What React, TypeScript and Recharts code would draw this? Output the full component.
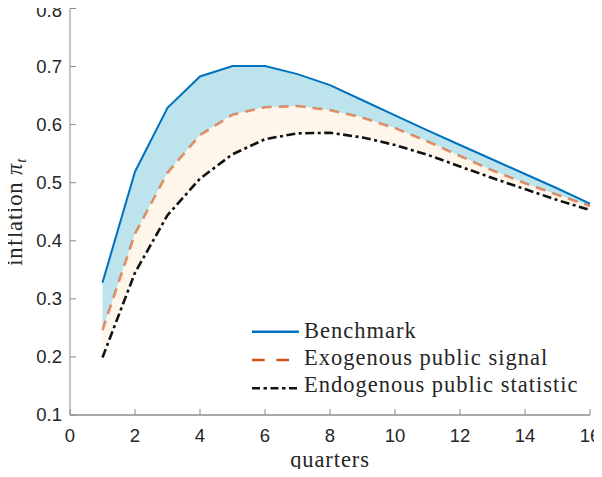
import React from 'react';
import { ComposedChart, Area, Line, XAxis, YAxis, Label } from 'recharts';

const quarters = [1, 2, 3, 4, 5, 6, 7, 8, 9, 10, 11, 12, 13, 14, 15, 16];
const benchmark = [0.328, 0.519, 0.629, 0.683, 0.701, 0.701, 0.687, 0.668, 0.642, 0.616, 0.590, 0.565, 0.540, 0.515, 0.490, 0.464];
const exogenous = [0.246, 0.412, 0.517, 0.582, 0.617, 0.630, 0.632, 0.625, 0.612, 0.594, 0.571, 0.546, 0.521, 0.499, 0.479, 0.460];
const endogenous = [0.199, 0.345, 0.444, 0.507, 0.549, 0.575, 0.585, 0.586, 0.578, 0.565, 0.548, 0.528, 0.508, 0.489, 0.470, 0.453];
const xTicks = [0, 2, 4, 6, 8, 10, 12, 14, 16];
const yTicks = [0.1, 0.2, 0.3, 0.4, 0.5, 0.6, 0.7, 0.8];
const legendLabels = ['Benchmark', 'Exogenous public signal', 'Endogenous public statistic'];

const data = quarters.map((q, i) => ({
  q,
  benchmark: benchmark[i],
  exogenous: exogenous[i],
  endogenous: endogenous[i],
  upperBand: [exogenous[i], benchmark[i]],
  lowerBand: [endogenous[i], exogenous[i]],
}));

const AXIS = '#8a8a8a';
const TICK_SIZE = 18.5;
const TICK_FONT = { fontFamily: '"Liberation Sans", Arial, sans-serif', fontSize: TICK_SIZE, fill: '#262626' };
const SERIF = '"Liberation Serif", "Times New Roman", serif';

const BLUE = '#0072BD';
const ORANGE = '#D95319';

const YTick = (props: any) => {
  const { x, y, payload } = props;
  // keep the font box of the top label inside the picture
  const yy = Math.max(y, TICK_SIZE * 0.56);
  return (
    <text
      x={x}
      y={yy}
      dy="0.35em"
      textAnchor="end"
      fontFamily={TICK_FONT.fontFamily}
      fontSize={TICK_SIZE}
      fill="#262626"
    >
      {Number(payload.value).toFixed(1)}
    </text>
  );
};

export default function App() {
  return (
    <div style={{ position: 'relative', margin: '-8px', width: 602, height: 477, overflow: 'visible' }}>
      <ComposedChart width={602} height={477} data={data} margin={{ top: 8.5, right: 12, bottom: 0, left: 0 }}>
        <XAxis
          xAxisId="b"
          dataKey="q"
          type="number"
          domain={[0, 16]}
          ticks={xTicks}
          height={62}
          tickSize={-6}
          tickMargin={20}
          axisLine={{ stroke: '#555555' }}
          tickLine={{ stroke: AXIS }}
          tick={TICK_FONT}
          interval={0}
        >
          <Label
            content={(props: any) => {
              const vb = props.viewBox;
              return (
                <text
                  x={vb.x + vb.width / 2}
                  y={467}
                  textAnchor="middle"
                  fontFamily={SERIF}
                  fontSize={22.5}
                  letterSpacing={0.9}
                  fill="#262626"
                >
                  quarters
                </text>
              );
            }}
          />
        </XAxis>
        <XAxis
          xAxisId="t"
          orientation="top"
          dataKey="q"
          type="number"
          domain={[0, 16]}
          ticks={xTicks}
          height={0}
          tickSize={-6}
          axisLine={{ stroke: AXIS }}
          tickLine={{ stroke: AXIS }}
          tick={false}
          interval={0}
        />
        <YAxis
          yAxisId="l"
          type="number"
          domain={[0.1, 0.8]}
          ticks={yTicks}
          width={70}
          tickSize={-6}
          tickMargin={14}
          axisLine={{ stroke: AXIS }}
          tickLine={{ stroke: AXIS }}
          tick={<YTick />}
          interval={0}
        >
          <Label
            content={(props: any) => {
              const vb = props.viewBox;
              const cx = 22;
              const cy = vb.y + vb.height / 2;
              return (
                <text
                  x={cx}
                  y={cy}
                  transform={`rotate(-90 ${cx} ${cy})`}
                  textAnchor="middle"
                  fontFamily={SERIF}
                  fontSize={22.5}
                  letterSpacing={0.9}
                  fill="#262626"
                >
                  inflation <tspan fontStyle="italic">π</tspan>
                  <tspan fontStyle="italic" fontSize={15} dy={4}>t</tspan>
                </text>
              );
            }}
          />
        </YAxis>
        <YAxis
          yAxisId="r"
          orientation="right"
          type="number"
          domain={[0.1, 0.8]}
          ticks={yTicks}
          width={0}
          tickSize={-6}
          axisLine={{ stroke: AXIS }}
          tickLine={{ stroke: AXIS }}
          tick={false}
          interval={0}
        />
        <Area
          xAxisId="b"
          yAxisId="l"
          type="linear"
          dataKey="upperBand"
          stroke="none"
          fill="#bde3ec"
          fillOpacity={1}
          isAnimationActive={false}
          activeDot={false}
        />
        <Area
          xAxisId="b"
          yAxisId="l"
          type="linear"
          dataKey="lowerBand"
          stroke="none"
          fill="#fef6ea"
          fillOpacity={1}
          isAnimationActive={false}
          activeDot={false}
        />
        <Line
          xAxisId="b"
          yAxisId="l"
          type="linear"
          dataKey="endogenous"
          stroke="#111111"
          strokeWidth={2.6}
          strokeDasharray="9 3.5 3 3.5"
          dot={false}
          activeDot={false}
          isAnimationActive={false}
        />
        <Line
          xAxisId="b"
          yAxisId="l"
          type="linear"
          dataKey="exogenous"
          stroke={ORANGE}
          strokeOpacity={0.62}
          strokeWidth={2.6}
          strokeDasharray="10 7"
          dot={false}
          activeDot={false}
          isAnimationActive={false}
        />
        <Line
          xAxisId="b"
          yAxisId="l"
          type="linear"
          dataKey="benchmark"
          stroke={BLUE}
          strokeWidth={2}
          dot={false}
          activeDot={false}
          isAnimationActive={false}
        />
      </ComposedChart>
      <svg
        width={350}
        height={90}
        style={{ position: 'absolute', left: 250, top: 315, overflow: 'visible' }}
      >
        <line x1={2} x2={49} y1={16.7} y2={16.7} stroke={BLUE} strokeWidth={2.4} />
        <line x1={2} x2={49} y1={45} y2={45} stroke={ORANGE} strokeWidth={2.6} strokeDasharray="12.7 11.7" />
        <line x1={2} x2={49} y1={73.3} y2={73.3} stroke="#111111" strokeWidth={2.6} strokeDasharray="8 3.5 3.5 3.5" />
        {legendLabels.map((t, i) => (
          <text
            key={t}
            x={54}
            y={22.7 + i * 27.3}
            fontFamily={SERIF}
            fontSize={22.5}
            letterSpacing={1}
            fill="#262626"
          >
            {t}
          </text>
        ))}
      </svg>
    </div>
  );
}
